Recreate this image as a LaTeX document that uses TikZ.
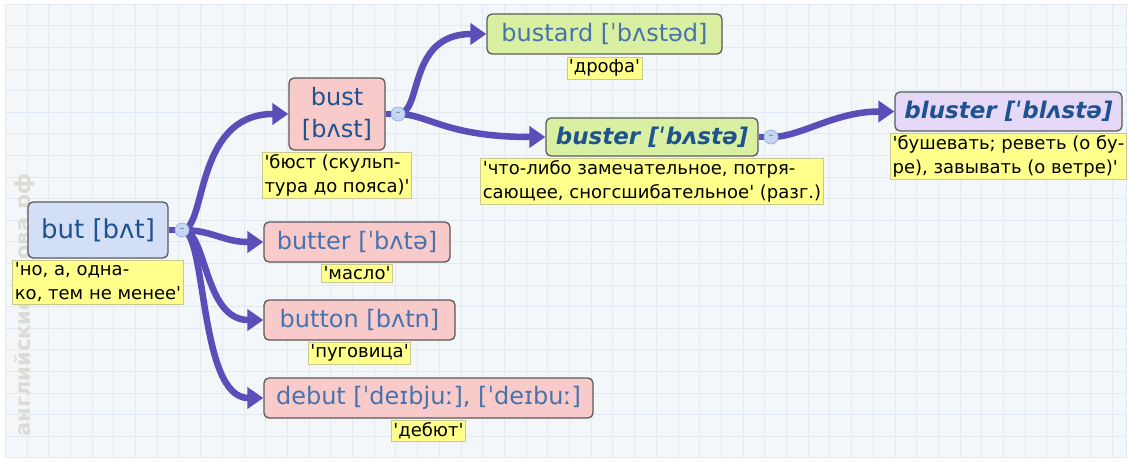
\documentclass[tikz,border=0pt]{standalone}
\usepackage{fontspec}
\setmainfont{DejaVu Sans}
\usetikzlibrary{positioning,arrows.meta,backgrounds}
\definecolor{gridBG}{HTML}{F4F7FA}
\definecolor{gridLine}{HTML}{E1EAF3}
\definecolor{rootBG}{HTML}{D3DEF7}
\definecolor{pinkBG}{HTML}{F9CACA}
\definecolor{greenBG}{HTML}{D9F0A3}
\definecolor{lilacBG}{HTML}{E6D9F7}
\definecolor{boxBorder}{HTML}{5A5A5A}
\definecolor{glossBG}{HTML}{FFFF8C}
\definecolor{glossBorder}{HTML}{C9C98F}
\definecolor{wordInk}{HTML}{1E5290}
\definecolor{wordLight}{HTML}{4773AD}
\definecolor{linkInk}{HTML}{5A4FB8}
\definecolor{knotBG}{HTML}{C7D7F3}
\definecolor{knotBorder}{HTML}{9DB4E0}
\definecolor{markInk}{HTML}{DCDCD4}

\begin{document}
\begin{tikzpicture}[x=1pt, y=-1pt,
  word/.style={draw=boxBorder, rounded corners=5pt, line width=1.3pt, inner xsep=6pt, inner ysep=0pt,
    font=\fontsize{24}{30}\selectfont, text=wordLight, align=center, minimum height=40pt},
  gloss/.style={fill=glossBG, draw=glossBorder, line width=0.8pt, inner xsep=2pt, inner ysep=2.5pt,
    align=left, font=\fontsize{18}{24}\selectfont, text=black},
  knot/.style={circle, fill=knotBG, draw=knotBorder, line width=0.8pt, minimum size=14pt, inner sep=0pt,
    font=\fontsize{10}{10}\selectfont, text=knotBorder!60!black},
  link/.style={draw=linkInk, line width=6.5pt, -{Triangle[length=16pt,width=21pt]}},
]
  \useasboundingbox (0,0) rectangle (1128,461);

  % words
  \node[word, fill=rootBG, text=wordInk, minimum width=140pt, minimum height=56pt,
    font=\fontsize{26}{30}\selectfont] (but) at (98,230) {but [bʌt]};
  \node[word, fill=pinkBG, text=wordInk, minimum width=96pt, minimum height=72pt,
    font=\fontsize{24}{32}\selectfont] (bust) at (337,114) {bust\\{[bʌst]}};
  \node[word, fill=greenBG, minimum width=235pt] (bustard) at (604.5,34) {bustard [ˈbʌstəd]};
  \node[word, fill=greenBG, text=wordInk, minimum width=212pt, minimum height=38pt,
    font=\bfseries\itshape\fontsize{23}{26}\selectfont] (buster) at (652,137) {buster [ˈbʌstə]};
  \node[word, fill=lilacBG, text=wordInk, minimum width=227pt, minimum height=39pt,
    font=\bfseries\itshape\fontsize{23}{26}\selectfont] (bluster) at (1008.5,111.5) {bluster [ˈblʌstə]};
  \node[word, fill=pinkBG, minimum width=186pt] (butter) at (357,242) {butter [ˈbʌtə]};
  \node[word, fill=pinkBG, minimum width=191pt] (button) at (359.5,320) {button [bʌtn]};
  \node[word, fill=pinkBG, minimum width=329pt] (debut) at (428.5,398) {debut [ˈdeɪbjuː], [ˈdeɪbuː]};

  % glosses
  \node[gloss, below=1pt of but] (butGloss) {\textquotesingle но, а, одна-\\ко, тем не менее\textquotesingle};
  \node[gloss, below=1pt of bust] (bustGloss) {\textquotesingle бюст (скульп-\\тура до пояса)\textquotesingle};
  \node[gloss, below=2pt of bustard] (bustardGloss) {\textquotesingle дрофа\textquotesingle};
  \node[gloss, below=1pt of buster] (busterGloss) {\textquotesingle что-либо замечательное, потря-\\сающее, сногсшибательное\textquotesingle\ (разг.)};
  \node[gloss, below=1pt of bluster] (blusterGloss) {\textquotesingle бушевать; реветь (о бу-\\ре), завывать (о ветре)\textquotesingle};
  \node[gloss, below=1pt of butter] (butterGloss) {\textquotesingle масло\textquotesingle};
  \node[gloss, below=1pt of button] (buttonGloss) {\textquotesingle пуговица\textquotesingle};
  \node[gloss, below=1pt of debut] (debutGloss) {\textquotesingle дебют\textquotesingle};

  % knots
  \node[knot, right=6pt of but] (butKnot) {–};
  \node[knot, right=5pt of bust] (bustKnot) {–};
  \node[knot, right=5pt of buster] (busterKnot) {–};

  \begin{scope}[on background layer]
    \fill[gridBG, draw=gridLine] (5,4) rectangle (1126,457);
    \foreach \i in {1,...,51}
      \draw[gridLine] ({5+21.7*\i},4) -- ({5+21.7*\i},457);
    \foreach \j in {1,...,20}
      \draw[gridLine] (5,{4+21.6*\j}) -- (1126,{4+21.6*\j});
    \node[rotate=90, text=markInk, font=\bfseries\fontsize{21}{21}\selectfont] (mark) at (25,305) {английские-слова.рф};

    \draw[link, -] (but.east) -- (butKnot.center);
    \draw[link] (butKnot.center) .. controls +(25,0) and +(-95,0) .. (bust.west);
    \draw[link] (butKnot.center) .. controls +(30,0) and +(-40,0) .. (butter.west);
    \draw[link] (butKnot.center) .. controls +(25,0) and +(-60,0) .. (button.west);
    \draw[link] (butKnot.center) .. controls +(25,0) and +(-65,0) .. (debut.west);
    \draw[link, -] (bust.east) -- (bustKnot.center);
    \draw[link] (bustKnot.center) .. controls +(25,0) and +(-80,0) .. (bustard.west);
    \draw[link] (bustKnot.center) .. controls +(30,0) and +(-100,0) .. (buster.west);
    \draw[link, -] (buster.east) -- (busterKnot.center);
    \draw[link] (busterKnot.center) .. controls +(30,0) and +(-60,0) .. (bluster.west);
  \end{scope}
\end{tikzpicture}
\end{document}
